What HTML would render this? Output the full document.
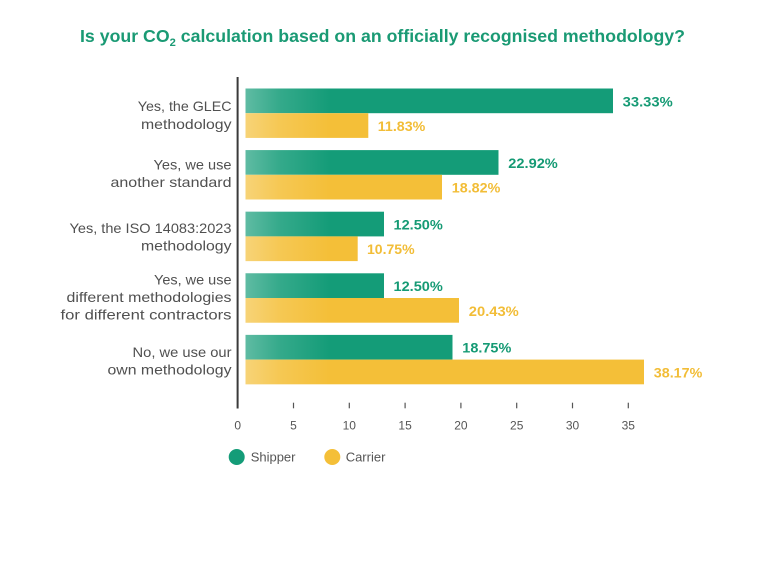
<!DOCTYPE html>
<html>
<head>
<meta charset="utf-8">
<style>
  html, body { margin: 0; padding: 0; background: #ffffff; }
  svg { display: block; }
  .cat { font-family: "Liberation Sans", sans-serif; font-size: 14px; fill: #505050; }
  .val { font-family: "Liberation Sans", sans-serif; font-size: 13.5px; font-weight: bold; }
  .tick { font-family: "Liberation Sans", sans-serif; font-size: 12px; fill: #555555; }
  .leg { font-family: "Liberation Sans", sans-serif; font-size: 13px; fill: #555555; }
</style>
</head>
<body>
<svg width="768" height="576" viewBox="0 0 768 576" xmlns="http://www.w3.org/2000/svg">
  <defs>
    <linearGradient id="fade" x1="245.5" y1="0" x2="330" y2="0" gradientUnits="userSpaceOnUse">
      <stop offset="0" stop-color="#ffffff" stop-opacity="0.32"/>
      <stop offset="0.4" stop-color="#ffffff" stop-opacity="0.14"/>
      <stop offset="1" stop-color="#ffffff" stop-opacity="0"/>
    </linearGradient>
  </defs>
  <rect width="768" height="576" fill="#ffffff"/>

  <!-- Title -->
  <text x="80" y="42" font-family="Liberation Sans, sans-serif" font-size="17.5" font-weight="bold" fill="#1a9a74" textLength="605" lengthAdjust="spacingAndGlyphs">Is your CO<tspan font-size="11" dy="4">2</tspan><tspan dy="-4"> calculation based on an officially recognised methodology?</tspan></text>

  <!-- Bars -->
  <g>
    <rect x="245.5" y="88.5" width="367.5" height="24.7" fill="#149c78"/>
    <rect x="245.5" y="113.2" width="122.8" height="24.7" fill="#f4bf38"/>
    <rect x="245.5" y="150.1" width="253" height="24.7" fill="#149c78"/>
    <rect x="245.5" y="174.8" width="196.5" height="24.7" fill="#f4bf38"/>
    <rect x="245.5" y="211.7" width="138.5" height="24.7" fill="#149c78"/>
    <rect x="245.5" y="236.4" width="112.2" height="24.7" fill="#f4bf38"/>
    <rect x="245.5" y="273.3" width="138.5" height="24.7" fill="#149c78"/>
    <rect x="245.5" y="298" width="213.5" height="24.7" fill="#f4bf38"/>
    <rect x="245.5" y="334.9" width="207" height="24.7" fill="#149c78"/>
    <rect x="245.5" y="359.6" width="398.5" height="24.7" fill="#f4bf38"/>
    <rect x="245.5" y="88.5" width="85" height="49.4" fill="url(#fade)"/>
    <rect x="245.5" y="150.1" width="85" height="49.4" fill="url(#fade)"/>
    <rect x="245.5" y="211.7" width="85" height="49.4" fill="url(#fade)"/>
    <rect x="245.5" y="273.3" width="85" height="49.4" fill="url(#fade)"/>
    <rect x="245.5" y="334.9" width="85" height="49.4" fill="url(#fade)"/>
  </g>

  <!-- Value labels -->
  <g class="val">
    <text x="622.7" y="106.3" fill="#159a74" textLength="50" lengthAdjust="spacingAndGlyphs">33.33%</text>
    <text x="377.8" y="131" fill="#f2bd37" textLength="47.5" lengthAdjust="spacingAndGlyphs">11.83%</text>
    <text x="508.3" y="167.9" fill="#159a74" textLength="49.5" lengthAdjust="spacingAndGlyphs">22.92%</text>
    <text x="451.8" y="192.6" fill="#f2bd37" textLength="48.5" lengthAdjust="spacingAndGlyphs">18.82%</text>
    <text x="393.5" y="229.5" fill="#159a74" textLength="49.3" lengthAdjust="spacingAndGlyphs">12.50%</text>
    <text x="367" y="254.2" fill="#f2bd37" textLength="47.6" lengthAdjust="spacingAndGlyphs">10.75%</text>
    <text x="393.5" y="291.1" fill="#159a74" textLength="49.3" lengthAdjust="spacingAndGlyphs">12.50%</text>
    <text x="468.8" y="315.8" fill="#f2bd37" textLength="50" lengthAdjust="spacingAndGlyphs">20.43%</text>
    <text x="462.3" y="352.7" fill="#159a74" textLength="49" lengthAdjust="spacingAndGlyphs">18.75%</text>
    <text x="653.8" y="377.4" fill="#f2bd37" textLength="48.5" lengthAdjust="spacingAndGlyphs">38.17%</text>
  </g>

  <!-- Category labels -->
  <g class="cat" text-anchor="end">
    <text x="231.5" y="111.2" textLength="93.7" lengthAdjust="spacingAndGlyphs">Yes, the GLEC</text>
    <text x="231.5" y="128.8" textLength="90.5" lengthAdjust="spacingAndGlyphs">methodology</text>
    <text x="231.5" y="169.5" textLength="78" lengthAdjust="spacingAndGlyphs">Yes, we use</text>
    <text x="231.5" y="187.2" textLength="121" lengthAdjust="spacingAndGlyphs">another standard</text>
    <text x="231.5" y="233" textLength="162" lengthAdjust="spacingAndGlyphs">Yes, the ISO 14083:2023</text>
    <text x="231.5" y="250.5" textLength="90.5" lengthAdjust="spacingAndGlyphs">methodology</text>
    <text x="231.5" y="284.5" textLength="77.5" lengthAdjust="spacingAndGlyphs">Yes, we use</text>
    <text x="231.5" y="302" textLength="165" lengthAdjust="spacingAndGlyphs">different methodologies</text>
    <text x="231.5" y="319.5" textLength="171" lengthAdjust="spacingAndGlyphs">for different contractors</text>
    <text x="231.5" y="357" textLength="99" lengthAdjust="spacingAndGlyphs">No, we use our</text>
    <text x="231.5" y="374.5" textLength="124" lengthAdjust="spacingAndGlyphs">own methodology</text>
  </g>

  <!-- Axis line -->
  <line x1="237.6" y1="77" x2="237.6" y2="408.5" stroke="#3a3a3a" stroke-width="2"/>

  <!-- Ticks -->
  <g stroke="#555555" stroke-width="1.2">
    <line x1="293.5" y1="402.7" x2="293.5" y2="408.3"/>
    <line x1="349.3" y1="402.7" x2="349.3" y2="408.3"/>
    <line x1="405.1" y1="402.7" x2="405.1" y2="408.3"/>
    <line x1="460.9" y1="402.7" x2="460.9" y2="408.3"/>
    <line x1="516.7" y1="402.7" x2="516.7" y2="408.3"/>
    <line x1="572.5" y1="402.7" x2="572.5" y2="408.3"/>
    <line x1="628.3" y1="402.7" x2="628.3" y2="408.3"/>
  </g>
  <g class="tick" text-anchor="middle">
    <text x="237.7" y="429.5">0</text>
    <text x="293.5" y="429.5">5</text>
    <text x="349.3" y="429.5">10</text>
    <text x="405.1" y="429.5">15</text>
    <text x="460.9" y="429.5">20</text>
    <text x="516.7" y="429.5">25</text>
    <text x="572.5" y="429.5">30</text>
    <text x="628.3" y="429.5">35</text>
  </g>

  <!-- Legend -->
  <circle cx="236.7" cy="457" r="8" fill="#149c78"/>
  <text class="leg" x="250.7" y="461.5">Shipper</text>
  <circle cx="332.3" cy="457" r="8" fill="#f4bf38"/>
  <text class="leg" x="345.7" y="461.5">Carrier</text>
</svg>
</body>
</html>
